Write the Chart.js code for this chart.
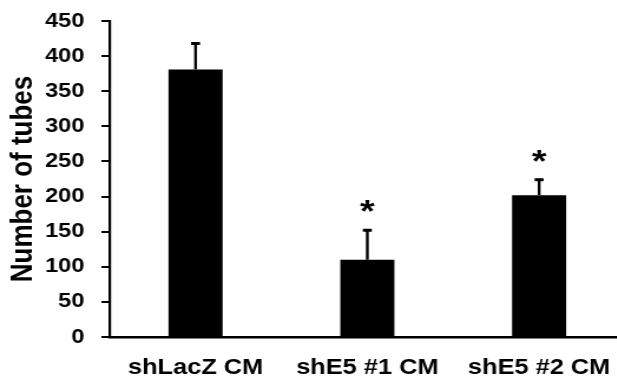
<!DOCTYPE html>
<html>
<head>
<meta charset="utf-8">
<script src="https://cdn.jsdelivr.net/npm/chart.js@4/dist/chart.umd.min.js"></script>
<style>
  html, body { margin: 0; padding: 0; background: #fff; overflow: hidden; width: 617px; height: 381px; }
  #c { display: block; }
</style>
</head>
<body>
<canvas id="c" width="530" height="381" style="width:625px;height:381px;"></canvas>
<script>
const categories = ['shLacZ CM', 'shE5 #1 CM', 'shE5 #2 CM'];
const tubeCounts = [381, 110, 202];
const errorsUp = [37, 42, 22];
const stars = ['', '*', '*'];
const yTicks = [0, 50, 100, 150, 200, 250, 300, 350, 400, 450];

const FONT = "'Liberation Sans', Arial, sans-serif";

const errorBarPlugin = {
  id: 'errorBars',
  afterDatasetsDraw(chart) {
    const ctx = chart.ctx;
    const meta = chart.getDatasetMeta(0);
    const yScale = chart.scales.y;
    ctx.save();
    ctx.strokeStyle = '#000';
    ctx.fillStyle = '#000';
    meta.data.forEach((bar, i) => {
      const x = bar.x;
      const yBase = yScale.getPixelForValue(tubeCounts[i]);
      const yTop = yScale.getPixelForValue(tubeCounts[i] + errorsUp[i]);
      ctx.lineWidth = 2.4;
      ctx.lineCap = 'butt';
      ctx.beginPath();
      ctx.moveTo(x, yBase);
      ctx.lineTo(x, yTop);
      ctx.stroke();
      ctx.lineWidth = 3;
      ctx.beginPath();
      ctx.moveTo(x - 3.8, yTop);
      ctx.lineTo(x + 3.8, yTop);
      ctx.stroke();
      if (stars[i]) {
        ctx.font = 'bold 32px ' + FONT;
        ctx.textAlign = 'center';
        ctx.textBaseline = 'alphabetic';
        ctx.fillText(stars[i], x, yTop - 8);
      }
    });
    ctx.restore();
  }
};

new Chart(document.getElementById('c'), {
  type: 'bar',
  data: {
    labels: categories,
    datasets: [{
      data: tubeCounts,
      backgroundColor: '#000',
      borderWidth: 0,
      barPercentage: 0.315,
      categoryPercentage: 1.0
    }]
  },
  options: {
    responsive: false,
    animation: false,
    devicePixelRatio: 1,
    layout: { padding: { top: 21, left: 0, right: 0, bottom: 0 } },
    plugins: { legend: { display: false }, tooltip: { enabled: false } },
    scales: {
      x: {
        grid: { display: true, drawOnChartArea: false, drawTicks: false },
        border: { display: true, color: '#000', width: 2.5 },
        ticks: {
          color: '#000',
          padding: 18,
          font: { family: FONT, size: 21.5, weight: 'bold' }
        },
        afterFit(scale) { scale.height = 44; scale.paddingLeft = 0; scale.paddingRight = 0; }
      },
      y: {
        min: 0,
        max: 450,
        afterBuildTicks(scale) { scale.ticks = yTicks.map(v => ({ value: v })); },
        grid: { display: true, drawOnChartArea: false, drawTicks: true, tickLength: 7, color: '#000', lineWidth: 2 },
        border: { display: true, color: '#000', width: 2.2 },
        ticks: {
          color: '#000',
          padding: 14.4,
          font: { family: FONT, size: 20, weight: 'bold' }
        },
        title: {
          display: true,
          text: 'Number of tubes',
          color: '#000',
          padding: { top: 4, bottom: 0 },
          font: { family: FONT, size: 26, weight: 'bold' }
        },
        afterFit(scale) { scale.width = 93; scale.paddingTop = 0; scale.paddingBottom = 0; }
      }
    }
  },
  plugins: [errorBarPlugin]
});
</script>
</body>
</html>
